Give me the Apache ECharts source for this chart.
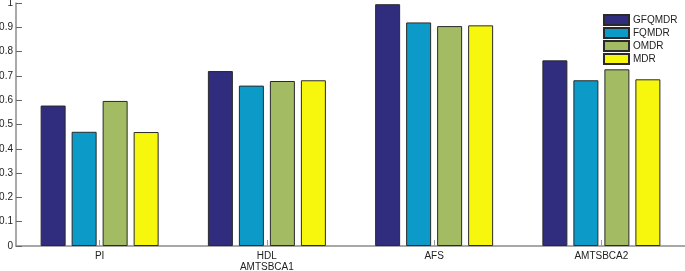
<!DOCTYPE html>
<html>
<head>
<meta charset="utf-8">
<script src="https://cdn.jsdelivr.net/npm/echarts@6/dist/echarts.min.js"></script>
<style>
  html, body { margin: 0; padding: 0; background: #fff; }
  #chart { width: 685px; height: 271px; }
</style>
</head>
<body>
<div id="chart"></div>
<script>
// 数据
const categories = ['PI', 'HDL\nAMTSBCA1', 'AFS', 'AMTSBCA2'];
const seriesNames = ['GFQMDR', 'FQMDR', 'OMDR', 'MDR'];
const gfqmdr = [0.578, 0.720, 0.995, 0.764];
const fqmdr = [0.470, 0.660, 0.920, 0.682];
const omdr = [0.597, 0.679, 0.905, 0.727];
const mdr = [0.469, 0.682, 0.908, 0.686];
const colors = ['#302c7e', '#0c9bc9', '#a3bc63', '#f7f70e'];

const chart = echarts.init(document.getElementById('chart'));
const rows = [gfqmdr, fqmdr, omdr, mdr];

chart.setOption({
  animation: false,
  color: colors,
  grid: { left: 16, right: 0, top: 3, bottom: 25, containLabel: false, outerBoundsMode: 'none' },
  legend: {
    orient: 'vertical',
    left: 598,
    top: 9,
    icon: 'rect',
    itemWidth: 25,
    itemHeight: 10,
    itemGap: 1,
    textStyle: { fontSize: 10, color: '#222', fontFamily: 'Liberation Sans', padding: [0, 0, 0, -1] },
    data: seriesNames
  },
  xAxis: {
    type: 'category',
    data: categories,
    axisLine: { lineStyle: { color: '#8c8c8c', width: 1.5 } },
    axisTick: { show: true, inside: true, alignWithLabel: true, length: 6, lineStyle: { color: '#999' } },
    axisLabel: { fontSize: 10, color: '#222', fontFamily: 'Liberation Sans', margin: 5, lineHeight: 11 }
  },
  yAxis: {
    type: 'value',
    min: 0,
    max: 1,
    interval: 0.1,
    axisLine: { show: true, lineStyle: { color: '#8c8c8c', width: 1.5 } },
    axisTick: { show: true, inside: true, length: 6, lineStyle: { color: '#666' } },
    splitLine: { show: false },
    axisLabel: { fontSize: 10, color: '#222', fontFamily: 'Liberation Sans', margin: 3 }
  },
  series: seriesNames.map((name, i) => ({
    name: name,
    type: 'bar',
    barWidth: 25,
    barGap: '24%',
    data: rows[i],
    itemStyle: { borderColor: '#2a2a2a', borderWidth: 1 }
  }))
});
</script>
</body>
</html>
